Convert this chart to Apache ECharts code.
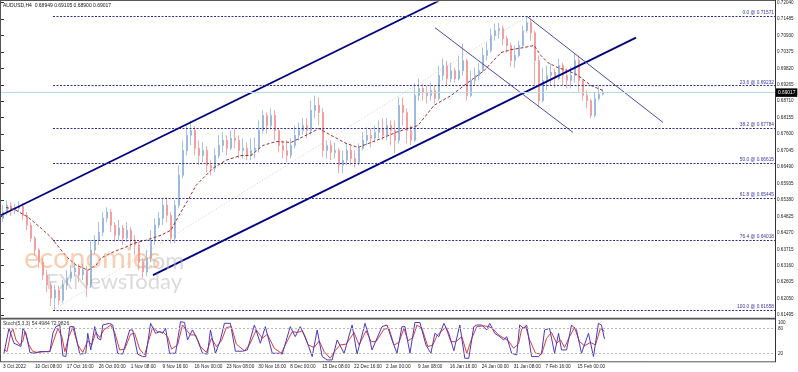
<!DOCTYPE html>
<html><head><meta charset="utf-8">
<script src="https://cdn.jsdelivr.net/npm/echarts@6/dist/echarts.min.js"></script>
<style>html,body{margin:0;padding:0;background:#fff}#c{width:798px;height:372px}</style>
</head><body><div id="c"></div>
<script>
// ---- price candles (each slot = 4 H4 bars) ----
const opens = [
0.6476,0.6497,0.6520,0.6503,0.6510,0.6517,0.6486,0.6453,0.6409,0.6369,
0.6328,0.6285,0.6251,0.6207,0.6234,0.6200,0.6251,0.6274,0.6295,0.6308,
0.6285,0.6301,0.6251,0.6369,0.6402,0.6429,0.6476,0.6497,0.6453,0.6419,
0.6443,0.6409,0.6436,0.6402,0.6386,0.6328,0.6295,0.6342,0.6402,0.6453,
0.6476,0.6520,0.6486,0.6409,0.6520,0.6621,0.6705,0.6756,0.6772,0.6712,
0.6688,0.6705,0.6655,0.6645,0.6688,0.6722,0.6739,0.6712,0.6746,0.6739,
0.6705,0.6712,0.6688,0.6705,0.6712,0.6772,0.6823,0.6789,0.6823,0.6772,
0.6722,0.6705,0.6688,0.6722,0.6756,0.6772,0.6789,0.6772,0.6840,0.6857,
0.6833,0.6705,0.6722,0.6698,0.6705,0.6655,0.6672,0.6705,0.6678,0.6665,
0.6712,0.6739,0.6756,0.6746,0.6766,0.6779,0.6756,0.6789,0.6772,0.6739,
0.6857,0.6833,0.6772,0.6739,0.6890,0.6914,0.6900,0.6890,0.6907,0.6880,
0.6958,0.6991,0.6947,0.6974,0.6947,0.6974,0.7008,0.6890,0.6941,0.6958,
0.6974,0.7025,0.7042,0.7092,0.7109,0.7116,0.7082,0.7059,0.7008,0.7025,
0.7059,0.7109,0.7136,0.7102,0.7008,0.6873,0.6941,0.6958,0.6968,0.6947,
0.6991,0.6958,0.6941,0.6958,0.7008,0.6941,0.6890,0.6873,0.6823,0.6880,
0.68949];
const closes = [
0.6497,0.6520,0.6503,0.6510,0.6517,0.6486,0.6453,0.6409,0.6369,0.6328,
0.6285,0.6251,0.6207,0.6234,0.6200,0.6251,0.6274,0.6295,0.6308,0.6285,
0.6301,0.6251,0.6369,0.6402,0.6429,0.6476,0.6497,0.6453,0.6419,0.6443,
0.6409,0.6436,0.6402,0.6386,0.6328,0.6295,0.6342,0.6402,0.6453,0.6476,
0.6520,0.6486,0.6409,0.6520,0.6621,0.6705,0.6756,0.6772,0.6712,0.6688,
0.6705,0.6655,0.6645,0.6688,0.6722,0.6739,0.6712,0.6746,0.6739,0.6705,
0.6712,0.6688,0.6705,0.6712,0.6772,0.6823,0.6789,0.6823,0.6772,0.6722,
0.6705,0.6688,0.6722,0.6756,0.6772,0.6789,0.6772,0.6840,0.6857,0.6833,
0.6705,0.6722,0.6698,0.6705,0.6655,0.6672,0.6705,0.6678,0.6665,0.6712,
0.6739,0.6756,0.6746,0.6766,0.6779,0.6756,0.6789,0.6772,0.6739,0.6857,
0.6833,0.6772,0.6739,0.6890,0.6914,0.6900,0.6890,0.6907,0.6880,0.6958,
0.6991,0.6947,0.6974,0.6947,0.6974,0.7008,0.6890,0.6941,0.6958,0.6974,
0.7025,0.7042,0.7092,0.7109,0.7116,0.7082,0.7059,0.7008,0.7025,0.7059,
0.7109,0.7136,0.7102,0.7008,0.6873,0.6941,0.6958,0.6968,0.6947,0.6991,
0.6958,0.6941,0.6958,0.7008,0.6941,0.6890,0.6873,0.6823,0.6880,0.68949,
0.69017];
const highs = [
0.6520,0.6537,0.6530,0.6523,0.6534,0.6527,0.6497,0.6463,0.6416,0.6375,
0.6342,0.6301,0.6261,0.6251,0.6248,0.6268,0.6301,0.6318,0.6328,0.6322,
0.6322,0.6315,0.6402,0.6419,0.6463,0.6497,0.6513,0.6507,0.6463,0.6470,
0.6453,0.6463,0.6446,0.6419,0.6396,0.6342,0.6369,0.6436,0.6476,0.6497,
0.6544,0.6547,0.6497,0.6537,0.6655,0.6739,0.6789,0.6806,0.6786,0.6739,
0.6732,0.6719,0.6672,0.6712,0.6756,0.6766,0.6756,0.6772,0.6779,0.6756,
0.6746,0.6732,0.6746,0.6749,0.6806,0.6840,0.6833,0.6847,0.6840,0.6779,
0.6739,0.6739,0.6746,0.6789,0.6799,0.6813,0.6813,0.6873,0.6890,0.6884,
0.6847,0.6739,0.6739,0.6732,0.6712,0.6705,0.6729,0.6722,0.6705,0.6729,
0.6766,0.6783,0.6779,0.6789,0.6806,0.6813,0.6813,0.6806,0.6806,0.6884,
0.6884,0.6847,0.6789,0.6931,0.6947,0.6931,0.6924,0.6934,0.6924,0.6991,
0.7015,0.7008,0.7001,0.6984,0.7025,0.7065,0.7015,0.6974,0.6984,0.7001,
0.7052,0.7069,0.7116,0.7133,0.7136,0.7126,0.7092,0.7069,0.7059,0.7075,
0.7126,0.71571,0.7149,0.7109,0.7025,0.6984,0.6991,0.6998,0.6981,0.7015,
0.7001,0.6981,0.6988,0.7032,0.7025,0.6947,0.6907,0.6880,0.6900,0.6924,
0.69105];
const lows = [
0.6463,0.6486,0.6483,0.6490,0.6497,0.6470,0.6436,0.6396,0.6349,0.6308,
0.6268,0.6227,0.6180,0.61658,0.6184,0.6190,0.6234,0.6261,0.6281,0.6261,
0.6268,0.6211,0.6241,0.6355,0.6386,0.6416,0.6463,0.6429,0.6396,0.6402,
0.6386,0.6396,0.6375,0.6352,0.6301,0.6274,0.6281,0.6328,0.6386,0.6443,
0.6453,0.6463,0.6392,0.6392,0.6510,0.6611,0.6688,0.6722,0.6688,0.6655,
0.6665,0.6631,0.6621,0.6631,0.6678,0.6698,0.6688,0.6705,0.6712,0.6678,
0.6678,0.6672,0.6672,0.6678,0.6698,0.6762,0.6762,0.6779,0.6739,0.6698,
0.6678,0.6665,0.6678,0.6712,0.6739,0.6756,0.6746,0.6756,0.6813,0.6789,
0.6682,0.6678,0.6672,0.6678,0.6628,0.6628,0.6655,0.6655,0.6648,0.6655,
0.6705,0.6722,0.6715,0.6732,0.6746,0.6739,0.6739,0.6722,0.6695,0.6729,
0.6789,0.6729,0.6722,0.6732,0.6873,0.6873,0.6863,0.6873,0.6863,0.6873,
0.6941,0.6924,0.6934,0.6934,0.6941,0.6958,0.6873,0.6884,0.6924,0.6941,
0.6968,0.7008,0.7035,0.7075,0.7082,0.7059,0.7035,0.6988,0.6984,0.7018,
0.7052,0.7102,0.7075,0.6924,0.6850,0.6867,0.6907,0.6924,0.6917,0.6941,
0.6924,0.6914,0.6914,0.6934,0.6900,0.6873,0.6847,0.6813,0.6816,0.6873,
0.68900];
const slotBars = 4; // H4 bars per drawn candle

// ---- moving average (dashed), [bar, price] ----
const maLine = [[5,0.6513],[15,0.6503],[27,0.6480],[40,0.6443],[50,0.6412],[60,0.6369],[67,0.6342],[75,0.6318],[87,0.6301],[95,0.6318],[100,0.6342],[110,0.6359],[117,0.6369],[125,0.6379],[133,0.6392],[145,0.6402],[160,0.6419],[170,0.6436],[178,0.6486],[187,0.6537],[195,0.6587],[205,0.6621],[212,0.6645],[225,0.6672],[240,0.6688],[250,0.6688],[262,0.6722],[275,0.6735],[290,0.6732],[305,0.6756],[318,0.6779],[330,0.6756],[345,0.6729],[357,0.6715],[370,0.6732],[383,0.6749],[395,0.6766],[407,0.6779],[417,0.6789],[425,0.6823],[433,0.6857],[450,0.6890],[467,0.6934],[483,0.6974],[500,0.7035],[510,0.7045],[523,0.7052],[533,0.7059],[540,0.7025],[547,0.7001],[557,0.6984],[567,0.6974],[577,0.6958],[590,0.6924],[602,0.6907]];

// ---- Fibonacci retracement ----
const fibLevels = [0.0, 23.6, 38.2, 50.0, 61.8, 76.4, 100.0];
const fibPrices = [0.71571, 0.69232, 0.67784, 0.66615, 0.65445, 0.64018, 0.61658];
const fibFromBar = 52, fibToBar = 774;
const fibTrend = [[52,0.61658],[526,0.71571]];

// ---- trend channels ----
const channelUpper = [[0,0.64864],[438,0.72099]];
const channelLower = [[152,0.62845],[635,0.70854]];
const descUpper = [[526,0.71571],[662,0.67994]];
const descLower = [[434,0.71190],[572,0.67657]];
const lastPrice = 0.69017;

// ---- stochastic (5,3,3) ----
const stochMain = [[1,20],[3,22],[6,80],[8,84],[11,44],[15,40],[18,36],[20,80],[23,68],[27,22],[31,20],[37,24],[43,24],[47,24],[50,68],[53,84],[57,88],[60,14],[63,12],[67,84],[71,84],[77,18],[83,20],[85,68],[88,28],[92,84],[95,56],[98,52],[100,88],[107,92],[110,88],[115,20],[120,18],[127,76],[130,76],[135,18],[140,12],[143,12],[148,92],[153,68],[157,72],[160,68],[163,80],[167,20],[173,20],[178,96],[182,94],[185,52],[190,76],[195,52],[200,20],[205,18],[208,76],[213,20],[218,52],[222,92],[228,92],[233,25],[240,25],[245,28],[252,88],[258,44],[263,84],[270,20],[277,20],[280,18],[288,84],[293,60],[298,84],[303,60],[310,12],[315,76],[320,12],[325,4],[330,4],[335,52],[342,20],[350,88],[355,18],[363,92],[367,60],[370,28],[380,84],[385,88],[390,52],[395,20],[400,84],[403,84],[408,20],[413,94],[418,94],[424,40],[429,20],[433,68],[437,60],[442,92],[447,68],[452,26],[458,88],[463,8],[467,8],[472,84],[475,88],[480,88],[485,76],[488,92],[493,68],[498,60],[502,52],[505,60],[510,20],[515,16],[518,88],[522,80],[525,88],[530,12],[537,12],[540,20],[543,76],[548,80],[553,20],[557,68],[560,28],[565,28],[570,88],[575,76],[580,20],[587,68],[592,12],[597,92],[600,88],[603,54.4984]];
const stochSignal = [[1,30],[4,24],[8,70],[10,78],[13,52],[17,40],[20,50],[22,72],[26,40],[30,24],[35,22],[41,24],[47,24],[51,52],[55,80],[59,60],[62,24],[66,60],[70,82],[75,40],[80,22],[85,50],[89,40],[93,70],[97,58],[101,76],[108,88],[112,70],[117,28],[122,30],[128,66],[132,68],[137,30],[142,16],[146,50],[150,82],[155,72],[161,70],[165,60],[169,30],[175,40],[180,88],[184,76],[188,64],[193,64],[198,36],[204,22],[209,56],[214,36],[219,50],[224,82],[229,84],[234,42],[242,26],[247,40],[254,76],[260,56],[265,66],[272,32],[279,20],[283,40],[290,72],[295,70],[300,74],[306,40],[312,34],[317,50],[322,24],[328,8],[333,26],[338,40],[344,42],[352,70],[357,40],[364,74],[369,48],[374,48],[382,78],[387,80],[392,40],[397,46],[402,80],[406,50],[411,58],[415,88],[420,80],[426,36],[431,40],[435,62],[439,72],[444,82],[449,48],[454,48],[460,60],[465,20],[470,56],[475,84],[482,86],[487,84],[491,80],[496,66],[501,58],[506,52],[512,32],[517,44],[520,78],[524,84],[528,52],[534,20],[540,18],[545,56],[550,70],[555,44],[559,52],[563,34],[568,60],[573,82],[578,48],[583,38],[589,46],[594,40],[599,80],[603,72.9826]];
const stochLevels = [20, 80];

// ---- axes text ----
const timeLabels = ['3 Oct 2022','10 Oct 08:00','17 Oct 16:00','26 Oct 00:00','1 Nov 08:00','9 Nov 16:00','16 Nov 00:00','23 Nov 08:00','30 Nov 16:00','8 Dec 00:00','15 Dec 08:00','22 Dec 16:00','2 Jan 00:00','9 Jan 08:00','16 Jan 16:00','24 Jan 00:00','31 Jan 08:00','7 Feb 16:00','15 Feb 00:00'];
const timeLabelStep = 32;
const priceTickMin = 0.61495, priceTickMax = 0.72040, priceTickStep = 0.00555;
const titleText = 'AUDUSD,H4  0.68949 0.69105 0.68900 0.69017';
const stochTitle = 'Stoch(5,3,3) 54.4984 72.9826';

const candles = opens.map((o, i) => [i * slotBars + 2, o, closes[i], lows[i], highs[i]]);
const F = 'Liberation Sans';
const navy = '#000080';
const chart = echarts.init(document.getElementById('c'), null, {renderer: 'canvas'});

const seg = (pts, color, width, type) => ({
  type: 'line', xAxisIndex: 0, yAxisIndex: 0, data: pts, symbol: 'none', silent: true,
  lineStyle: {color: color, width: width, type: type || 'solid'}, z: 3
});

chart.setOption({
  animation: false,
  backgroundColor: '#fff',
  grid: [
    {left: 1, right: 23, top: 1.8, height: 313.3},
    {left: 1, right: 23, top: 320, height: 41.6}
  ],
  xAxis: [
    {type: 'value', gridIndex: 0, min: 0, max: 774, show: false},
    {type: 'value', gridIndex: 1, min: 0, max: 774, interval: timeLabelStep,
      axisLine: {show: false}, axisTick: {show: false}, splitLine: {show: false},
      axisLabel: {formatter: v => timeLabels[Math.round(v / timeLabelStep)] || '', align: 'left',
        fontSize: 4.7, fontFamily: F, color: '#222', margin: 3}}
  ],
  yAxis: [
    {type: 'value', gridIndex: 0, position: 'right', min: priceTickMin, max: priceTickMax, interval: priceTickStep,
      axisLine: {show: false}, axisTick: {show: true, length: 3, lineStyle: {color: '#333'}}, splitLine: {show: false},
      axisLabel: {formatter: v => v.toFixed(5), fontSize: 4.6, fontFamily: F, color: '#222', margin: 2}},
    {type: 'value', gridIndex: 1, position: 'right', min: 0, max: 100, interval: 20,
      axisLine: {show: false}, axisTick: {show: false}, splitLine: {show: false},
      axisLabel: {fontSize: 4.6, fontFamily: F, color: '#222', margin: 3,
        formatter: v => v === 100 ? '{a|100}' : v === 80 ? '80' : v === 20 ? '20' : v === 0 ? '{b|0}' : '',
        rich: {a: {fontSize: 4.6, fontFamily: F, color: '#222', padding: [6, 0, 0, 0]},
               b: {fontSize: 4.6, fontFamily: F, color: '#222', padding: [0, 0, 8, 0]}}}}
  ],
  series: [
    {type: 'candlestick', xAxisIndex: 0, yAxisIndex: 0, data: candles, encode: {x: 0, y: [1, 2, 3, 4]},
      barWidth: 1.6, z: 2,
      itemStyle: {color: '#8fb3da', color0: '#f39494', borderColor: '#8fb3da', borderColor0: '#f39494', borderWidth: 0.8},
      markLine: {silent: true, symbol: 'none', animation: false,
        lineStyle: {color: '#b5dbeb', width: 1, type: 'solid'},
        label: {position: 'end', distance: 1, formatter: () => lastPrice.toFixed(5), color: '#fff', backgroundColor: '#000',
          fontSize: 4.8, fontFamily: F, padding: [2, 2, 1.5, 2]},
        data: [{yAxis: lastPrice}]}},
    {type: 'line', xAxisIndex: 0, yAxisIndex: 0, data: maLine, symbol: 'none', silent: true, z: 4,
      lineStyle: {color: '#9b3030', width: 1, type: [3, 2]},
      markLine: {silent: true, symbol: 'none', animation: false,
        lineStyle: {color: '#2f2f8f', width: 1, type: [2, 1.5]},
        label: {position: 'insideEndTop', distance: [1, 1], formatter: '{b}', color: '#3535a0', fontSize: 4.8, fontFamily: F},
        data: fibPrices.map((p, i) => [
          {coord: [fibFromBar, p], name: fibLevels[i].toFixed(1) + ' @ ' + p.toFixed(5)},
          {coord: [fibToBar, p]}])}},
    seg(fibTrend, '#d8c8c8', 1, [1, 2]),
    seg(channelUpper, navy, 1.8),
    seg(channelLower, navy, 1.8),
    seg(descUpper, '#4b4ba8', 1),
    seg(descLower, '#4b4ba8', 1),
    {type: 'line', xAxisIndex: 1, yAxisIndex: 1, data: stochSignal, symbol: 'none', silent: true,
      lineStyle: {color: '#e03c3c', width: 1},
      markLine: {silent: true, symbol: 'none', animation: false, label: {show: false},
        lineStyle: {color: '#b8b8b8', width: 1, type: [2, 2]},
        data: stochLevels.map(v => ({yAxis: v}))}},
    {type: 'line', xAxisIndex: 1, yAxisIndex: 1, data: stochMain, symbol: 'none', silent: true,
      lineStyle: {color: '#4a3ac0', width: 1}}
  ],
  graphic: [
    {type: 'text', left: 3, top: 3, silent: true, style: {text: titleText, fontSize: 5, fontFamily: F, fill: '#111'}},
    {type: 'text', left: 3, top: 321, silent: true, style: {text: stochTitle, fontSize: 5, fontFamily: F, fill: '#333'}},
    {type: 'line', silent: true, shape: {x1: 0, y1: 0.5, x2: 776, y2: 0.5}, style: {stroke: '#555', lineWidth: 1}},
    {type: 'line', silent: true, shape: {x1: 0.5, y1: 0, x2: 0.5, y2: 362}, style: {stroke: '#555', lineWidth: 1}},
    {type: 'rect', silent: true, shape: {x: 0, y: 317.8, width: 776, height: 1.6}, style: {fill: '#555'}},
    {type: 'line', silent: true, shape: {x1: 0, y1: 361.8, x2: 776, y2: 361.8}, style: {stroke: '#555', lineWidth: 1}},
    {type: 'line', silent: true, shape: {x1: 775.5, y1: 0, x2: 775.5, y2: 362}, style: {stroke: '#333', lineWidth: 1}},
    {type: 'text', left: 24, top: 244, silent: true, z: 10,
      style: {text: 'economies', fontSize: 29, fontFamily: 'Lato', fontWeight: 'normal', fill: 'rgba(243,160,105,0.5)'}},
    {type: 'text', left: 136, top: 250, silent: true, z: 10,
      style: {text: '.com', fontSize: 23, fontFamily: 'Lato', fill: 'rgba(185,185,185,0.55)'}},
    {type: 'text', left: 46, top: 271, silent: true, z: 10,
      style: {text: 'FXNewsToday', fontSize: 22, fontFamily: 'Lato', fill: 'rgba(150,150,150,0.35)'}}
  ]
});
</script>
</body></html>
